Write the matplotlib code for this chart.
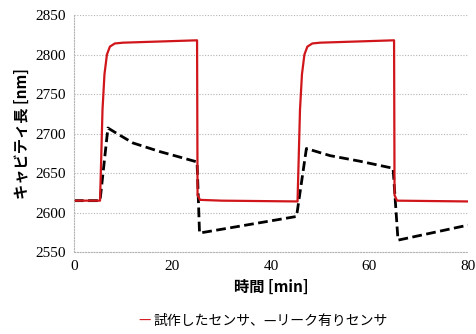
import matplotlib
matplotlib.use('Agg')
import matplotlib.pyplot as plt

# Data
t_red = [0, 5.3, 5.5, 5.8, 6.2, 6.7, 7.3, 8.3, 10, 15, 20, 25.0, 25.1, 25.6, 30, 45.4,
         45.6, 45.9, 46.3, 46.8, 47.4, 48.4, 50, 55, 60, 65.0, 65.1, 65.6, 80]
v_red = [2615, 2615, 2660, 2730, 2775, 2800, 2810, 2814, 2815, 2816, 2817, 2818, 2622, 2616, 2615, 2614,
         2660, 2730, 2775, 2800, 2810, 2814, 2815, 2816, 2817, 2818, 2622, 2615, 2614]

t_blk = [0, 5.3, 6.9, 9, 12, 17.5, 21, 25.0, 25.5, 45.2, 47.2, 52, 58, 64.8, 65.8, 80]
v_blk = [2615, 2615, 2707, 2699, 2688, 2677, 2671, 2664, 2574, 2595, 2681, 2672, 2665, 2656, 2565, 2584]

x_ticks = [0, 20, 40, 60, 80]
y_ticks = [2550, 2600, 2650, 2700, 2750, 2800, 2850]

jp = ['Noto Sans CJK JP', 'DejaVu Sans']

fig = plt.figure(figsize=(4.77, 3.34), dpi=100)
ax = fig.add_axes([0.155, 0.2455, 0.826, 0.7095])

ax.plot(t_blk, v_blk, color='black', linewidth=2.0, linestyle=(0, (3.5, 1.6)))
ax.plot(t_red, v_red, color='#d0161b', linewidth=1.6)

ax.set_xlim(0, 80)
ax.set_ylim(2550, 2850)
ax.set_xticks(x_ticks)
ax.set_yticks(y_ticks)
ax.tick_params(length=0, labelsize=11, pad=6)
for lab in ax.get_xticklabels() + ax.get_yticklabels():
    lab.set_fontfamily('Liberation Serif')

ax.grid(axis='y', color='#b4b4b4', linestyle=(0, (1, 1.5)), linewidth=0.8)
for s in ['top', 'right']:
    ax.spines[s].set_visible(False)
for s in ['left', 'bottom']:
    ax.spines[s].set_color('#b4b4b4')
    ax.spines[s].set_linestyle((0, (1, 1.5)))
    ax.spines[s].set_linewidth(0.8)

ax.set_ylabel('キャビティ長 [nm]', family=jp, fontsize=11, fontweight='bold', labelpad=4)
ax.set_xlabel('時間 [min]', family=jp, fontsize=11, fontweight='bold', labelpad=4)

# legend line written as text, Excel style
fig.text(0.290, 0.027, '—', color='#d0161b', family=jp, fontsize=10, ha='left', va='baseline')
fig.text(0.322, 0.027, '試作したセンサ、—リーク有りセンサ', color='black', family=jp,
         fontsize=10, ha='left', va='baseline')

fig.savefig('out.png', dpi=100)
